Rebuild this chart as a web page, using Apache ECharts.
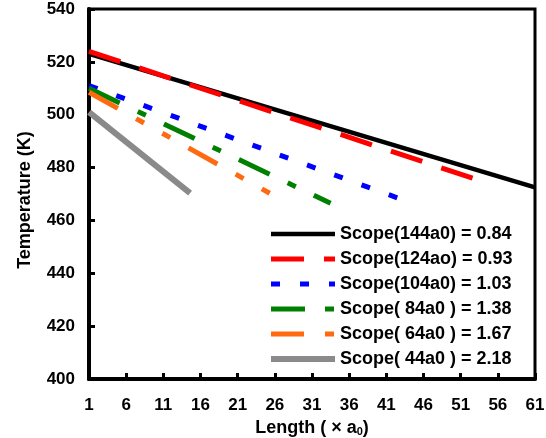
<!DOCTYPE html>
<html>
<head>
<meta charset="utf-8">
<script src="https://cdn.jsdelivr.net/npm/echarts@6/dist/echarts.min.js"></script>
<style>
  html, body { margin: 0; padding: 0; background: #fff; }
  #chart { width: 546px; height: 438px; }
</style>
</head>
<body>
<div id="chart"></div>
<script>
// x tick labels (Length, in a0)
const lengthTicks = [1, 6, 11, 16, 21, 26, 31, 36, 41, 46, 51, 56, 61];

// each fitted line: start / end points
const seriesNames = [
  'Scope(144a0) = 0.84',
  'Scope(124ao) = 0.93',
  'Scope(104a0) = 1.03',
  'Scope( 84a0 ) = 1.38',
  'Scope( 64a0 ) = 1.67',
  'Scope( 44a0 ) = 2.18'
];
const lengthStart = [1, 1, 1, 1, 1, 1];
const lengthEnd = [61, 54, 44, 33.5, 25.5, 14.6];
const tempStart = [523, 524, 511, 510, 508.5, 501];
const tempEnd = [472.5, 474.7, 467, 466.5, 470, 470.3];

const colors = ['#000000', '#ff0000', '#0000ff', '#008000', '#ff6a10', '#8a8a8a'];
const widths = [4.5, 5, 5, 5, 5, 6];
const dashes = ['solid', [33, 20], [9, 20], [34, 20, 9, 20], [33, 21, 9, 21, 9, 21], 'solid'];

const chart = echarts.init(document.getElementById('chart'));

const series = seriesNames.map((name, i) => ({
  name: name,
  type: 'line',
  symbol: 'none',
  animation: false,
  lineStyle: { color: colors[i], width: widths[i], type: dashes[i], cap: 'butt' },
  itemStyle: { color: colors[i] },
  data: [[lengthStart[i], tempStart[i]], [lengthEnd[i], tempEnd[i]]]
}));

const labelFont = { fontFamily: 'Liberation Sans, Arial', fontWeight: 'bold', color: '#000', fontSize: 17 };

const option = {
  animation: false,
  grid: {
    left: 89, right: 11, top: 9, bottom: 59,
    containLabel: false,
    outerBoundsMode: 'none',
    show: true, borderColor: '#000', borderWidth: 3, backgroundColor: 'transparent'
  },
  legend: {
    orient: 'vertical',
    left: 263,
    top: 219,
    itemWidth: 64,
    itemHeight: 14,
    itemGap: 5,
    itemStyle: { color: 'transparent', borderWidth: 0, opacity: 0 },
    lineStyle: { width: 'inherit' },
    textStyle: Object.assign({}, labelFont, { fontSize: 18, lineHeight: 20 }),
    data: seriesNames
  },
  xAxis: {
    type: 'value',
    min: 1,
    max: 61,
    name: 'Length ( × a{sub|0})',
    nameLocation: 'middle',
    nameGap: 38,
    nameTextStyle: Object.assign({}, labelFont, {
      fontSize: 18,
      rich: { sub: { fontFamily: 'Liberation Sans, Arial', fontWeight: 'bold', fontSize: 11, verticalAlign: 'bottom', padding: [9, 0, 0, 0] } }
    }),
    splitLine: { show: false },
    axisLine: { lineStyle: { color: '#000', width: 4 } },
    axisTick: { inside: true, length: 6, lineStyle: { width: 3 }, customValues: lengthTicks },
    axisLabel: Object.assign({}, labelFont, { margin: 18, customValues: lengthTicks })
  },
  yAxis: {
    type: 'value',
    min: 400,
    max: 540,
    interval: 20,
    name: 'Temperature (K)',
    nameLocation: 'middle',
    nameGap: 55,
    nameTextStyle: Object.assign({}, labelFont, { fontSize: 18, padding: [0, 12, 0, 0] }),
    splitLine: { show: false },
    axisLine: { lineStyle: { color: '#000', width: 4 } },
    axisTick: { inside: true, length: 6, lineStyle: { width: 3 } },
    axisLabel: Object.assign({}, labelFont, { margin: 14 })
  },
  series: series
};

chart.setOption(option);

window.addEventListener('resize', function () {
  chart.resize();
});
</script>
</body>
</html>
